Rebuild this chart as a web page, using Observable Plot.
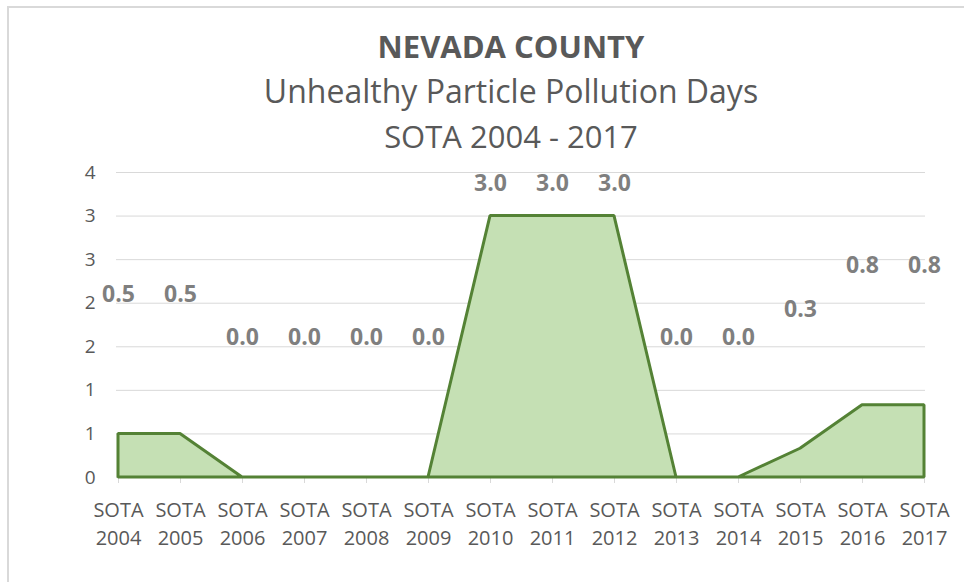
<!DOCTYPE html>
<html><head><meta charset="utf-8">
<script src="https://cdn.jsdelivr.net/npm/d3@7"></script>
<script src="https://cdn.jsdelivr.net/npm/@observablehq/plot@0.6"></script>
<style>
body{margin:0;background:#fff;overflow:hidden;font-family:"Open Sans",sans-serif;width:964px;height:582px;position:relative}
#frame{position:absolute;left:7px;top:6px;width:1100px;height:700px;border:2px solid #d9d9d9;box-sizing:border-box}
.t{position:absolute;left:0;width:1022px;text-align:center;color:#595959;height:40px;line-height:40px;white-space:nowrap}
#t1{top:26px;font-size:31px;font-weight:bold}
#t2{top:71px;font-size:32px}
#t3{top:116px;font-size:31px}
#chart{position:absolute;left:0;top:150px}
</style></head>
<body>
<div id="frame"></div>
<div class="t" id="t1">NEVADA COUNTY</div>
<div class="t" id="t2">Unhealthy Particle Pollution Days</div>
<div class="t" id="t3">SOTA 2004 - 2017</div>
<div id="chart"></div>
<script>
const years = ["2004","2005","2006","2007","2008","2009","2010","2011","2012","2013","2014","2015","2016","2017"];
const values = [0.5,0.5,0,0,0,0,3,3,3,0,0,0.33,0.83,0.83];
const yTicks = [0,0.5,1,1.5,2,2.5,3,3.5];
const data = years.map((y,i)=>({year:y, value:values[i]}));

const chart = Plot.plot({
  width:964, height:432, marginLeft:116, marginRight:39, marginTop:22, marginBottom:105,
  x:{type:"point", domain:years, padding:0, label:null},
  y:{domain:[0,3.5], label:null},
  style:{fontFamily:"'Open Sans', sans-serif", color:"#595959", background:"transparent", overflow:"visible"},
  marks:[
    Plot.gridY(yTicks, {stroke:"#d9d9d9", strokeOpacity:1}),
    Plot.axisY(yTicks, {tickSize:0, tickPadding:21, tickFormat:d=>String(Math.round(d)), fontSize:19, fill:"#595959", label:null}),
    Plot.axisX({tickSize:6, tickPadding:14, stroke:"#d9d9d9", fill:"#595959", tickFormat:d=>"SOTA\n"+d, fontSize:20, lineHeight:1.4, label:null}),
    Plot.areaY(data, {x:"year", y:"value", fill:"#c5e0b4", stroke:"#548235", strokeWidth:3, strokeLinejoin:"miter"}),
    Plot.text(data, {x:"year", y:d=>Math.min(d.value+1.6,3.37), text:d=>d.value.toFixed(1), fontWeight:"bold", fontSize:23, fill:"#7f7f7f"})
  ]
});
document.getElementById("chart").appendChild(chart);
</script>
</body></html>
